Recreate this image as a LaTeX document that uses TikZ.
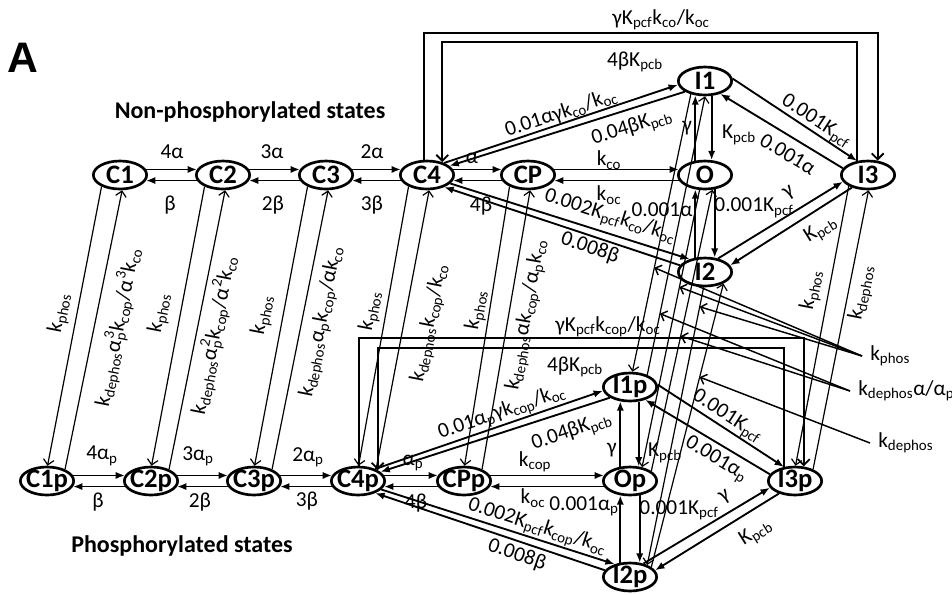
\documentclass[tikz,border=0pt]{standalone}
\usepackage{fontspec}
\setmainfont{Carlito}
\newfontfamily\letterfont{Liberation Sans}
\usetikzlibrary{arrows.meta,shapes.geometric}
\newcommand{\rsub}[1]{\textsubscript{#1}}
\newcommand{\rsupsub}[2]{\rlap{\textsuperscript{#1}}\textsubscript{#2}}
\tikzset{
  state/.style={ellipse,draw,line width=2pt,inner sep=-3pt,
    minimum width=40pt,minimum height=21pt,
    font=\bfseries\fontsize{20}{24}\selectfont},
  trans/.style={line width=1.4pt,-{Latex[length=7pt,width=5.5pt]}},
  phos/.style={line width=.9pt,-{Straight Barb[length=4pt,width=8pt]}},
  loopline/.style={line width=1.4pt,-{Straight Barb[length=4.5pt,width=9pt]}},
  pointer/.style={line width=1.1pt,-{Straight Barb[length=4pt,width=8pt]}},
  rate/.style={font=\fontsize{16}{19}\selectfont,inner sep=0pt},
  side/.style={rate,anchor=west,inner sep=6pt}
}

\begin{document}
\begin{tikzpicture}[x=.75pt,y=-.75pt]
  \useasboundingbox (0,0) rectangle (952,594);
  % states
  \node[state] (C1) at (120,175) {C1};
  \node[state] (C2) at (223,175) {C2};
  \node[state] (C3) at (326,175) {C3};
  \node[state] (C4) at (427,175) {C4};
  \node[state] (CP) at (528,175) {CP};
  \node[state] (O) at (705,175) {O};
  \node[state] (I1) at (705,81) {I1};
  \node[state] (I2) at (705,272) {I2};
  \node[state] (I3) at (868,175) {I3};
  \node[state] (C1p) at (47,481) {C1p};
  \node[state] (C2p) at (151,481) {C2p};
  \node[state] (C3p) at (254,481) {C3p};
  \node[state] (C4p) at (358,481) {C4p};
  \node[state] (CPp) at (464,481) {CPp};
  \node[state] (Op) at (630,481) {Op};
  \node[state] (I1p) at (630,387) {I1p};
  \node[state] (I2p) at (630,577) {I2p};
  \node[state] (I3p) at (795,481) {I3p};
  % titles
  \node[font=\letterfont\bfseries\fontsize{32}{36}\selectfont] (panel) at (23,58) {A};
  \node[font=\bfseries\fontsize{18}{22}\selectfont] (top) at (250,112) {Non-phosphorylated states};
  \node[font=\bfseries\fontsize{18}{22}\selectfont] (bottom) at (182,546) {Phosphorylated states};

  % non-phosphorylated transitions
  \draw[trans] (C1.12) -- (C2.168);
  \draw[trans] (C2.192) -- (C1.348);
  \draw[trans] (C2.12) -- (C3.168);
  \draw[trans] (C3.192) -- (C2.348);
  \draw[trans] (C3.12) -- (C4.168);
  \draw[trans] (C4.192) -- (C3.348);
  \draw[trans] (C4.12) -- (CP.168);
  \draw[trans] (CP.192) -- (C4.348);
  \draw[trans] (CP.12) -- (O.168);
  \draw[trans] (O.192) -- (CP.348);
  \draw[trans] (C4.35) -- (I1.188);
  \draw[trans] (I1.208) -- (C4.22);
  \draw[trans] (C4.340) -- (I2.140);
  \draw[trans] (I2.165) -- (C4.325);
  \draw[trans] (O.124) -- (I1.236);
  \draw[trans] (I1.294) -- (O.66);
  \draw[trans] (I2.124) -- (O.236);
  \draw[trans] (O.304) -- (I2.56);
  \draw[trans] (I1.5) -- (I3.128);
  \draw[trans] (I3.165) -- (I1.320);
  \draw[trans] (I2.46) -- (I3.195);
  \draw[trans] (I3.218) -- (I2.15);
  \draw[loopline] (C4.102) -- (C4.102 |- 0,33) -| (I3.56);
  \draw[loopline] (I3.128) -- (I3.128 |- 0,42) -| (C4.40);

  % phosphorylated transitions
  \draw[trans] (C1p.12) -- (C2p.168);
  \draw[trans] (C2p.192) -- (C1p.348);
  \draw[trans] (C2p.12) -- (C3p.168);
  \draw[trans] (C3p.192) -- (C2p.348);
  \draw[trans] (C3p.12) -- (C4p.168);
  \draw[trans] (C4p.192) -- (C3p.348);
  \draw[trans] (C4p.12) -- (CPp.168);
  \draw[trans] (CPp.192) -- (C4p.348);
  \draw[trans] (CPp.12) -- (Op.168);
  \draw[trans] (Op.192) -- (CPp.348);
  \draw[trans] (C4p.35) -- (I1p.188);
  \draw[trans] (I1p.208) -- (C4p.22);
  \draw[trans] (C4p.340) -- (I2p.140);
  \draw[trans] (I2p.165) -- (C4p.325);
  \draw[trans] (Op.124) -- (I1p.236);
  \draw[trans] (I1p.301) -- (Op.59);
  \draw[trans] (I2p.124) -- (Op.236);
  \draw[trans] (Op.304) -- (I2p.56);
  \draw[trans] (I1p.5) -- (I3p.128);
  \draw[trans] (I3p.165) -- (I1p.320);
  \draw[trans] (I2p.45) -- (I3p.195);
  \draw[trans] (I3p.218) -- (I2p.15);
  \draw[loopline] (C4p.86) -- (C4p.86 |- 0,338) -| (I3p.59);
  \draw[loopline] (I3p.128) -- (I3p.128 |- 0,348) -| (C4p.29);

  % phosphorylation / dephosphorylation
  \draw[phos] (C1.212) -- (C1p.88);
  \draw[phos] (C1p.33) -- (C1.278);
  \draw[phos] (C2.212) -- (C2p.88);
  \draw[phos] (C2p.33) -- (C2.278);
  \draw[phos] (C3.212) -- (C3p.88);
  \draw[phos] (C3p.33) -- (C3.278);
  \draw[phos] (C4.212) -- (C4p.88);
  \draw[phos] (C4p.33) -- (C4.278);
  \draw[phos] (CP.212) -- (CPp.88);
  \draw[phos] (CPp.33) -- (CP.278);
  \draw[phos] (I3.210) -- (I3p.88);
  \draw[phos] (I3p.33) -- (I3.272);
  \draw[phos] (I1.223) -- (I1p.81) coordinate[pos=.625] (pI1);
  \draw[phos] (I1p.35) -- (I1.270) coordinate[pos=.22] (dI1);
  \draw[phos] (O.250) -- (Op.49) coordinate[pos=.35] (pO);
  \draw[phos] (Op.25) -- (O.297) coordinate[pos=.48] (dO);
  \draw[phos] (I2.265) -- (I2p.35) coordinate[pos=.07] (pI2);
  \draw[phos] (I2p.25) -- (I2.328) coordinate[pos=.67] (dI2);

  % rates, non-phosphorylated
  \node[rate] (a4) at (172,152) {4α};
  \node[rate] (b1) at (170,205) {β};
  \node[rate] (a3) at (272,152) {3α};
  \node[rate] (b2) at (273,205) {2β};
  \node[rate] (a2) at (372,152) {2α};
  \node[rate] (b3) at (372,205) {3β};
  \node[rate] (a1) at (472,158) {α};
  \node[rate] (b4) at (481,206) {4β};
  \node[rate] (kco) at (609,160) {k\rsub{co}};
  \node[rate] (koc) at (609,195) {k\rsub{oc}};
  \node[rate,rotate=18.5] (ci1) at (561,113) {0.01αγk\rsub{co}/k\rsub{oc}};
  \node[rate,rotate=17.5] (i1c) at (632,128) {0.04βK\rsub{pcb}};
  \node[rate,rotate=-17.6] (ci2) at (610,217) {0.002K\rsub{pcf}k\rsub{co}/k\rsub{oc}};
  \node[rate,rotate=-18.6] (i2c) at (590,248) {0.008β};
  \node[rate] (oi1) at (687,128) {γ};
  \node[rate] (i1o) at (739,135) {K\rsub{pcb}};
  \node[rate] (i2o) at (662,210) {0.001α};
  \node[rate] (oi2) at (754,208) {0.001K\rsub{pcf}};
  \node[rate,rotate=-33] (i1i3) at (816,122) {0.001K\rsub{pcf}};
  \node[rate,rotate=-31] (i3i1) at (788,154) {0.001α};
  \node[rate,rotate=32] (i2i3) at (789,193) {γ};
  \node[rate,rotate=32] (i3i2) at (821,230) {K\rsub{pcb}};
  \node[rate] (ci3) at (661,20) {γK\rsub{pcf}k\rsub{co}/k\rsub{oc}};
  \node[rate] (i3c) at (635,62) {4βK\rsub{pcb}};

  % rates, phosphorylated
  \node[rate] (a4p) at (102,456) {4α\rsub{p}};
  \node[rate] (b1p) at (98,502) {β};
  \node[rate] (a3p) at (198,456) {3α\rsub{p}};
  \node[rate] (b2p) at (200,502) {2β};
  \node[rate] (a2p) at (308,457) {2α\rsub{p}};
  \node[rate] (b3p) at (307,501) {3β};
  \node[rate] (a1p) at (413,463) {α\rsub{p}};
  \node[rate] (b4p) at (416,503) {4β};
  \node[rate] (kcop) at (535,462) {k\rsub{cop}};
  \node[rate] (kocp) at (533,498) {k\rsub{oc}};
  \node[rate,rotate=19] (ci1p) at (502,413) {0.01α\rsub{p}γk\rsub{cop}/k\rsub{oc}};
  \node[rate,rotate=19] (i1cp) at (572,432) {0.04βK\rsub{pcb}};
  \node[rate,rotate=-17.8] (ci2p) at (537,527) {0.002K\rsub{pcf}k\rsub{cop}/k\rsub{oc}};
  \node[rate,rotate=-18.8] (i2cp) at (517,555) {0.008β};
  \node[rate] (oi1p) at (612,450) {γ};
  \node[rate] (i1op) at (665,453) {K\rsub{pcb}};
  \node[rate] (i2op) at (584,506) {0.001α\rsub{p}};
  \node[rate] (oi2p) at (679,510) {0.001K\rsub{pcf}};
  \node[rate,rotate=-33] (i1i3p) at (727,417) {0.001K\rsub{pcf}};
  \node[rate,rotate=-31] (i3i1p) at (716,460) {0.001α\rsub{p}};
  \node[rate,rotate=31] (i2i3p) at (725,497) {γ};
  \node[rate,rotate=32] (i3i2p) at (756,533) {K\rsub{pcb}};
  \node[rate] (ci3p) at (608,327) {γK\rsub{pcf}k\rsub{cop}/k\rsub{oc}};
  \node[rate] (i3cp) at (575,367) {4βK\rsub{pcb}};

  % rates, phosphorylation
  \node[rate,rotate=79] (ph1) at (60,313) {k\rsub{phos}};
  \node[rate,rotate=79] (dp1) at (118,327) {k\rsub{dephos}α\rsupsub{3}{p}k\rsub{cop}/α\textsuperscript{3}k\rsub{co}};
  \node[rate,rotate=79] (ph2) at (160,313) {k\rsub{phos}};
  \node[rate,rotate=79] (dp2) at (214,335) {k\rsub{dephos}α\rsupsub{2}{p}k\rsub{cop}/α\textsuperscript{2}k\rsub{co}};
  \node[rate,rotate=79] (ph3) at (263,315) {k\rsub{phos}};
  \node[rate,rotate=79] (dp3) at (322,322) {k\rsub{dephos}α\rsub{p}k\rsub{cop}/αk\rsub{co}};
  \node[rate,rotate=79] (ph4) at (371,311) {k\rsub{phos}};
  \node[rate,rotate=79] (dp4) at (430,323) {k\rsub{dephos}k\rsub{cop}/k\rsub{co}};
  \node[rate,rotate=80] (phP) at (477,310) {k\rsub{phos}};
  \node[rate,rotate=80] (dpP) at (527,315) {k\rsub{dephos}αk\rsub{cop}/α\rsub{p}k\rsub{co}};
  \node[rate,rotate=79] (phI3) at (812,290) {k\rsub{phos}};
  \node[rate,rotate=79] (dpI3) at (862,293) {k\rsub{dephos}};
  \node[side] (kphos) at (862,356) {k\rsub{phos}};
  \node[side] (kdepha) at (850,391) {k\rsub{dephos}α/α\rsub{p}};
  \node[side] (kdeph) at (870,443) {k\rsub{dephos}};
  \draw[pointer] (kphos.west) -- (pI1);
  \draw[pointer] (kphos.west) -- (pO);
  \draw[pointer] (kphos.west) -- (pI2);
  \draw[pointer] (kdepha.west) -- (dI1);
  \draw[pointer] (kdepha.west) -- (dO);
  \draw[pointer] (kdeph.west) -- (dI2);
\end{tikzpicture}
\end{document}
